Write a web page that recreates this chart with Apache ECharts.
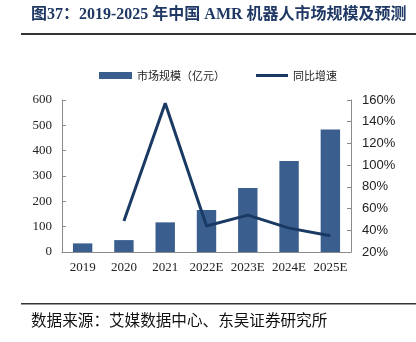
<!DOCTYPE html>
<html><head><meta charset="utf-8">
<script src="https://cdn.jsdelivr.net/npm/echarts@6/dist/echarts.min.js"></script>
<style>html,body{margin:0;padding:0;background:#fff}#c{width:416px;height:342px}</style>
</head><body><div id="c"></div>
<script>
const categories = ['2019','2020','2021','2022E','2023E','2024E','2025E'];
const marketSize = [34, 47, 117, 166, 253, 359, 484];
const growthRate = [null, 48.5, 157, 44, 54, 42, 35];
const leftTicks = {min:0, max:600, interval:100};
const rightTicks = {min:20, max:160, interval:20};

const serif = '"Liberation Serif","Times New Roman","Noto Sans CJK SC",serif';
const cjk = '"Liberation Serif","Noto Sans CJK SC",sans-serif';
const chart = echarts.init(document.getElementById('c'));
chart.setOption({
  animation:false,
  grid:{left:62, right:65, top:100, bottom:90},
  graphic:[
    {type:'text', left:31, top:7, style:{text:'图37：2019-2025 年中国 AMR 机器人市场规模及预测', font:'bold 16px '+cjk, fill:'#1f3864'}},
    {type:'rect', shape:{x:21, y:33, width:395, height:2}, style:{fill:'#333'}},
    {type:'rect', shape:{x:21, y:303, width:395, height:1.5}, style:{fill:'#333'}},
    {type:'text', left:31, top:312, style:{text:'数据来源：艾媒数据中心、东吴证券研究所', font:'15.6px "Noto Sans CJK SC",sans-serif', fill:'#111'}}
  ],
  legend:[
    {data:['市场规模（亿元）'], left:94, top:65, itemWidth:33, itemHeight:7, icon:'rect', itemGap:10,
     textStyle:{fontSize:11, color:'#222', fontFamily:'"Noto Sans CJK SC",sans-serif'}},
    {data:[{name:'同比增速', icon:'path://M0,0H32V3H0Z'}], left:251, top:65, itemWidth:32, itemHeight:7,
     textStyle:{fontSize:11, color:'#222', fontFamily:'"Noto Sans CJK SC",sans-serif'}}
  ],
  xAxis:{type:'category', data:categories,
    axisLine:{lineStyle:{color:'#8a8a8a'}},
    axisTick:{inside:true, length:4, lineStyle:{color:'#8a8a8a'}},
    axisLabel:{color:'#222', fontSize:13, fontFamily:serif, margin:9, interval:0}},
  yAxis:[
    {type:'value', min:leftTicks.min, max:leftTicks.max, interval:leftTicks.interval,
     axisLine:{show:true, lineStyle:{color:'#8a8a8a'}},
     axisTick:{show:true, inside:true, length:4, lineStyle:{color:'#8a8a8a'}},
     splitLine:{show:false},
     axisLabel:{color:'#222', fontSize:13, fontFamily:serif, margin:10}},
    {type:'value', min:rightTicks.min, max:rightTicks.max, interval:rightTicks.interval, position:'right',
     axisLine:{show:true, lineStyle:{color:'#8a8a8a'}},
     axisTick:{show:true, inside:true, length:4, lineStyle:{color:'#8a8a8a'}},
     splitLine:{show:false},
     axisLabel:{color:'#222', fontSize:13, fontFamily:'"Liberation Sans",Arial,sans-serif', margin:11, formatter:'{value}%'}}
  ],
  series:[
    {name:'市场规模（亿元）', type:'bar', data:marketSize, barWidth:'47%', itemStyle:{color:'#3a5f8f'}},
    {name:'同比增速', type:'line', yAxisIndex:1, data:growthRate, symbol:'none', connectNulls:false,
     lineStyle:{width:3, color:'#1b3a63'}, itemStyle:{color:'#1b3a63'}}
  ]
});
</script></body></html>
